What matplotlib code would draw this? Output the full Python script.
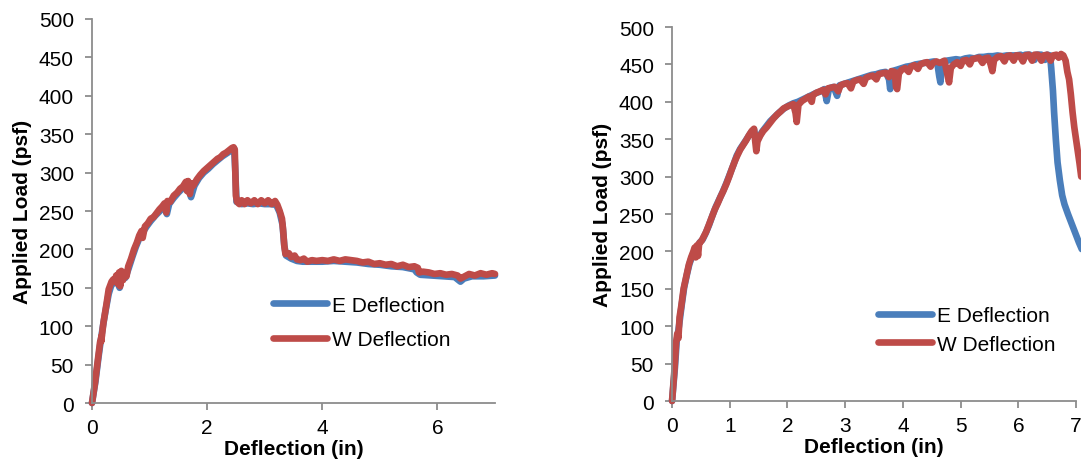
import matplotlib.pyplot as plt

plt.rcParams['font.family'] = ['Liberation Sans', 'DejaVu Sans']

BLUE = '#4a7ebb'
RED = '#be4b48'
GRAY = '#8c8c8c'

# left test
left_w_x = [0, 0.05, 0.10, 0.14, 0.17, 0.16, 0.20, 0.25, 0.29, 0.31, 0.34, 0.37, 0.40, 0.42, 0.45,
            0.47, 0.49, 0.51, 0.54, 0.57, 0.60, 0.63, 0.68, 0.73, 0.78, 0.82, 0.86, 0.88, 0.92,
            0.97, 1.02, 1.07, 1.12, 1.17, 1.22, 1.26, 1.29, 1.31, 1.36, 1.42, 1.48, 1.53, 1.58,
            1.63, 1.65, 1.67, 1.70, 1.73, 1.76, 1.82, 1.88, 1.94, 2.00, 2.06, 2.12, 2.18, 2.23,
            2.28, 2.33, 2.38, 2.43, 2.46, 2.48, 2.49, 2.50, 2.52, 2.56, 2.60, 2.65, 2.70, 2.76,
            2.82, 2.88, 2.94, 3.00, 3.06, 3.12, 3.18, 3.22, 3.26, 3.30, 3.32, 3.34, 3.36, 3.42,
            3.46, 3.52, 3.56, 3.62, 3.68, 3.74, 3.82, 3.90, 4.00, 4.10, 4.20, 4.30, 4.40, 4.50,
            4.60, 4.70, 4.80, 4.90, 5.00, 5.10, 5.20, 5.30, 5.40, 5.50, 5.60, 5.66, 5.68, 5.75,
            5.85, 5.95, 6.05, 6.15, 6.25, 6.35, 6.40, 6.45, 6.55, 6.65, 6.75, 6.85, 6.95, 7.00]
left_w_y = [0, 25, 55, 79, 88, 80, 105, 128, 148, 152, 158, 161, 158, 166, 155,
            170, 152, 172, 160, 168, 165, 178, 188, 200, 209, 218, 224, 215, 230,
            234, 240, 242, 247, 252, 256, 260, 248, 263, 262, 270, 274, 279, 282,
            288, 276, 289, 272, 286, 283, 291, 297, 302, 306, 310, 314, 318, 320,
            324, 326, 329, 332, 333, 330, 300, 270, 262, 259, 264, 259, 264, 260,
            264, 259, 264, 260, 264, 259, 263, 258, 250, 240, 225, 205, 194, 195,
            190, 192, 187, 186, 188, 184, 186, 185, 186, 185, 187, 185, 187, 186,
            185, 183, 184, 181, 182, 180, 181, 178, 180, 177, 178, 176, 170, 171,
            170, 168, 169, 167, 168, 166, 162, 164, 168, 166, 169, 167, 169, 168]

left_e_x = [0, 0.06, 0.11, 0.15, 0.19, 0.24, 0.29, 0.33, 0.38, 0.43, 0.48, 0.52, 0.58, 0.64, 0.70,
            0.76, 0.82, 0.88, 0.95, 1.02, 1.10, 1.18, 1.26, 1.30, 1.34, 1.42, 1.50, 1.58, 1.66,
            1.72, 1.78, 1.86, 1.94, 2.02, 2.10, 2.18, 2.26, 2.34, 2.42, 2.47, 2.49, 2.51, 2.60,
            2.70, 2.80, 2.90, 3.00, 3.10, 3.20, 3.26, 3.31, 3.34, 3.37, 3.46, 3.56, 3.66, 3.80,
            4.00, 4.20, 4.40, 4.60, 4.80, 5.00, 5.20, 5.40, 5.60, 5.64, 5.70, 5.90, 6.10, 6.30,
            6.40, 6.46, 6.60, 6.80, 7.00]
left_e_y = [0, 28, 58, 80, 100, 122, 142, 152, 158, 160, 150, 166, 163, 176, 190,
            203, 214, 222, 230, 237, 244, 250, 256, 246, 259, 267, 274, 280, 285,
            268, 283, 293, 300, 305, 311, 316, 321, 325, 329, 331, 300, 262, 259,
            260, 259, 260, 259, 259, 258, 248, 232, 205, 192, 188, 185, 184, 184,
            184, 185, 184, 183, 181, 180, 178, 177, 174, 170, 167, 166, 165, 164,
            158, 162, 165, 165, 166]

# right test
right_w_x = [0, 0.04, 0.07, 0.09, 0.11, 0.13, 0.16, 0.20, 0.25, 0.29, 0.33, 0.37, 0.39, 0.41, 0.43,
             0.45, 0.47, 0.51, 0.55, 0.59, 0.64, 0.69, 0.74, 0.79, 0.84, 0.89, 0.94, 0.99, 1.04,
             1.09, 1.13, 1.18, 1.23, 1.28, 1.33, 1.38, 1.42, 1.44, 1.46, 1.48, 1.53, 1.58, 1.64,
             1.70, 1.76, 1.82, 1.88, 1.93, 1.98, 2.04, 2.10, 2.14, 2.16, 2.19, 2.25, 2.31, 2.37,
             2.42, 2.44, 2.50, 2.56, 2.62, 2.66, 2.70, 2.76, 2.82, 2.88, 2.92, 2.98, 3.04, 3.10,
             3.14, 3.20, 3.26, 3.32, 3.36, 3.42, 3.48, 3.54, 3.58, 3.64, 3.70, 3.76, 3.80, 3.86,
             3.88, 3.90, 3.93, 3.98, 4.04, 4.10, 4.14, 4.20, 4.26, 4.30, 4.36, 4.42, 4.48, 4.52,
             4.58, 4.64, 4.72, 4.76, 4.80, 4.83, 4.88, 4.94, 5.00, 5.04, 5.10, 5.16, 5.20, 5.26,
             5.32, 5.38, 5.42, 5.48, 5.52, 5.55, 5.58, 5.64, 5.70, 5.76, 5.80, 5.86, 5.92, 5.96,
             6.02, 6.08, 6.12, 6.18, 6.24, 6.28, 6.34, 6.40, 6.44, 6.50, 6.56, 6.60, 6.66, 6.70,
             6.74, 6.78, 6.82, 6.85, 6.88, 6.91, 6.94, 6.97, 7.00, 7.03, 7.06, 7.09]
right_w_y = [0, 40, 78, 90, 84, 112, 127, 150, 168, 182, 192, 200, 205, 192, 208,
             194, 211, 214, 220, 226, 236, 246, 256, 264, 273, 281, 290, 300, 311,
             321, 328, 336, 342, 348, 355, 361, 364, 348, 334, 347, 355, 361, 366,
             372, 378, 383, 387, 391, 393, 395, 397, 385, 373, 396, 401, 404, 407,
             400, 409, 412, 414, 416, 410, 418, 419, 420, 414, 422, 424, 425, 418,
             427, 429, 430, 424, 432, 434, 435, 430, 437, 438, 439, 433, 441, 440,
             420, 417, 438, 443, 445, 440, 447, 449, 444, 450, 452, 453, 447, 452,
             454, 452, 455, 440, 426, 445, 450, 453, 448, 455, 456, 450, 457, 458,
             459, 452, 458, 459, 450, 441, 456, 460, 461, 454, 461, 462, 455, 462,
             462, 454, 462, 463, 455, 463, 463, 455, 462, 463, 455, 462, 463, 459,
             464, 462, 455, 440, 430, 410, 386, 366, 350, 335, 318, 300]

right_e_x = [0, 0.05, 0.08, 0.12, 0.17, 0.21, 0.26, 0.30, 0.35, 0.39, 0.44, 0.48, 0.53, 0.58, 0.64,
             0.70, 0.76, 0.82, 0.88, 0.94, 1.00, 1.06, 1.12, 1.18, 1.24, 1.30, 1.36, 1.42, 1.46,
             1.50, 1.56, 1.62, 1.70, 1.78, 1.86, 1.94, 2.02, 2.10, 2.18, 2.26, 2.34, 2.42, 2.50,
             2.58, 2.64, 2.68, 2.72, 2.80, 2.86, 2.90, 2.98, 3.06, 3.14, 3.22, 3.30, 3.38, 3.46,
             3.54, 3.62, 3.70, 3.76, 3.78, 3.81, 3.90, 3.98, 4.06, 4.14, 4.22, 4.30, 4.38, 4.46,
             4.54, 4.60, 4.63, 4.65, 4.68, 4.76, 4.84, 4.92, 5.00, 5.08, 5.16, 5.24, 5.32, 5.40,
             5.48, 5.56, 5.64, 5.72, 5.80, 5.88, 5.96, 6.04, 6.08, 6.12, 6.20, 6.28, 6.32, 6.40,
             6.46, 6.50, 6.55, 6.57, 6.60, 6.62, 6.65, 6.68, 6.72, 6.76, 6.80, 6.86, 6.94, 7.00,
             7.05, 7.10]
right_e_y = [0, 45, 80, 100, 130, 152, 170, 183, 194, 202, 206, 212, 216, 224, 235,
             248, 260, 270, 280, 291, 303, 315, 328, 337, 344, 351, 358, 363, 345,
             352, 360, 366, 374, 380, 386, 391, 395, 398, 400, 403, 406, 409, 412,
             414, 417, 401, 418, 420, 408, 422, 424, 426, 428, 430, 432, 434, 436,
             437, 439, 440, 430, 417, 441, 443, 445, 447, 448, 450, 451, 452, 453,
             454, 450, 434, 426, 453, 455, 456, 457, 456, 458, 459, 458, 460, 460,
             461, 461, 462, 461, 462, 462, 462, 463, 455, 463, 463, 456, 463, 463,
             456, 463, 462, 445, 415, 386, 350, 319, 295, 275, 263, 250, 234, 222,
             212, 203]

y_ticks = [0, 50, 100, 150, 200, 250, 300, 350, 400, 450, 500]

fig = plt.figure(figsize=(10.81, 4.64), dpi=100)
ax1 = fig.add_axes([0.0851, 0.1293, 0.3728, 0.8276])
ax2 = fig.add_axes([0.6217, 0.1336, 0.3737, 0.806])

panels = [
    (ax1, left_e_x, left_e_y, left_w_x, left_w_y, [0, 2, 4, 6], (0.449, 0.21), 0.75),
    (ax2, right_e_x, right_e_y, right_w_x, right_w_y, [0, 1, 2, 3, 4, 5, 6, 7], (0.51, 0.19), 0.45),
]

for ax, ex, ey, wx, wy, xt, anchor, spacing in panels:
    ax.plot(ex, ey, color=BLUE, lw=4.8, solid_capstyle='round', solid_joinstyle='round',
            label='E Deflection', clip_on=False)
    ax.plot(wx, wy, color=RED, lw=4.8, solid_capstyle='round', solid_joinstyle='round',
            label='W Deflection', clip_on=False)
    ax.set_xlim(0, 7)
    ax.set_ylim(0, 500)
    ax.set_xticks(xt)
    ax.set_yticks(y_ticks)
    for s in ['top', 'right']:
        ax.spines[s].set_visible(False)
    for s in ['left', 'bottom']:
        ax.spines[s].set_color(GRAY)
        ax.spines[s].set_linewidth(1.3)
    ax.tick_params(axis='both', direction='out', length=5, width=1.3, color=GRAY,
                   labelsize=15, labelcolor='black')
    ax.tick_params(axis='y', pad=8)
    ax.tick_params(axis='x', pad=6)
    ax.set_xlabel('Deflection (in)', fontsize=15, fontweight='bold', labelpad=1)
    ax.set_ylabel('Applied Load (psf)', fontsize=15, fontweight='bold', labelpad=5)
    ax.legend(loc='center left', bbox_to_anchor=anchor, frameon=False, fontsize=15,
              handlelength=2.6, handletextpad=0.25, borderpad=0, borderaxespad=0,
              labelspacing=spacing)

fig.savefig('out.png', dpi=100)
